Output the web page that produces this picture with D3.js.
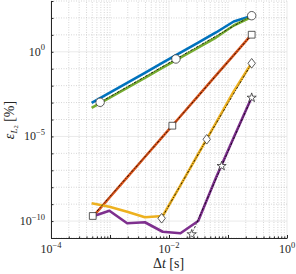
<!DOCTYPE html>
<html>
<head>
<meta charset="utf-8">
<script src="https://cdn.jsdelivr.net/npm/d3@7"></script>
<style>
  body { margin: 0; background: #fff; }
  svg { display: block; }
  text { font-family: "Liberation Serif", "DejaVu Serif", serif; fill: #262626; }
</style>
</head>
<body>
<div id="chart"></div>
<script>
// time steps (s), 0.25 / 2^k
const dt = [4.883e-4, 9.766e-4, 1.953e-3, 3.906e-3, 7.813e-3, 1.563e-2, 3.125e-2, 6.25e-2, 0.125, 0.25];

// error curves [%]
const errBlue   = [9.44e-4, 3.73e-3, 1.45e-2, 5.74e-2, 0.227, 0.883, 3.44, 13.8, 61.5, 130];
const errOrange = [1.49e-10, 2.38e-9, 3.81e-8, 6.1e-7, 9.75e-6, 1.56e-4, 2.49e-3, 3.99e-2, 0.638, 10.2];
const errYellow = [1.12e-9, 7.08e-10, 3.58e-10, 1.67e-10, 2.0e-10, 1.3e-8, 9.18e-7, 6.4e-5, 4.52e-3, 0.209];
const errPurple = [1.82e-10, 4.1e-10, 7.4e-11, 8.5e-11, 2.34e-11, 1.9e-11, 1.01e-10, 3.66e-8, 8.53e-6, 1.94e-3];
const errGreen  = [4.79e-4, 1.89e-3, 7.36e-3, 2.91e-2, 0.115, 0.448, 1.75, 6.98, 35.7, 113.5];

// reference slopes (order 2, 4, 6, 8) with marker points
const refCircle  = { dt: [6.8e-4, 1.31e-2, 0.252], err: [1.04e-3, 0.375, 135.5] };
const refSquare  = { dt: [5.1e-4, 1.14e-2, 0.252], err: [2.0e-10, 4.31e-5, 10.2] };
const refDiamond = { dt: [7.5e-3, 4.36e-2, 0.252], err: [1.46e-10, 6.78e-6, 0.209] };
const refStar    = { dt: [2.43e-2, 7.8e-2, 0.252], err: [1.66e-11, 1.79e-7, 1.94e-3] };

const xLabels = [-4, -2, 0];
const yLabels = [-10, -5, 0];

const width = 296, height = 274;
const svg = d3.select("#chart").append("svg")
  .attr("width", width)
  .attr("height", height);

const x = d3.scaleLog().domain([1e-4, 1]).range([51, 287]);
const y = d3.scaleLog().domain([1e-11, 1e3]).range([238, 1]);

// grid
const xMinor = [];
for (let d = -4; d < 0; d++) {
  for (let m = 1; m < 10; m++) xMinor.push(m * Math.pow(10, d));
}
xMinor.push(1);
const yDec = d3.range(-11, 4).map(d => Math.pow(10, d));

const isMajorX = d => xLabels.some(e => Math.abs(Math.log10(d) - e) < 1e-6);
const isMajorY = d => yLabels.includes(Math.round(Math.log10(d)));

const grid = svg.append("g");
grid.selectAll("line.xg")
  .data(xMinor)
  .enter()
  .append("line")
  .attr("x1", d => x(d)).attr("x2", d => x(d))
  .attr("y1", y(1e-11)).attr("y2", y(1e3))
  .attr("stroke", d => isMajorX(d) ? "#e0e0e0" : "#c4c4c4")
  .attr("stroke-width", 0.7)
  .attr("stroke-dasharray", d => isMajorX(d) ? null : "1,1.5");

grid.selectAll("line.yg")
  .data(yDec)
  .enter()
  .append("line")
  .attr("y1", d => y(d)).attr("y2", d => y(d))
  .attr("x1", x(1e-4)).attr("x2", x(1))
  .attr("stroke", d => isMajorY(d) ? "#e0e0e0" : "#c4c4c4")
  .attr("stroke-width", 0.7)
  .attr("stroke-dasharray", d => isMajorY(d) ? null : "1,1.5");

// error curves
const line = d3.line()
  .x((d, i) => x(dt[i]))
  .y(d => y(d));

const curves = [
  { data: errBlue, color: "#0072BD" },
  { data: errOrange, color: "#D95319" },
  { data: errYellow, color: "#EDB120" },
  { data: errPurple, color: "#7E2F8E" },
  { data: errGreen, color: "#77AC30" }
];

curves.forEach(c => {
  svg.append("path")
    .datum(c.data)
    .attr("d", line)
    .attr("fill", "none")
    .attr("stroke", c.color)
    .attr("stroke-width", 2.6)
    .attr("stroke-linejoin", "round");
});

// reference lines and markers
const refLine = d3.line()
  .x(d => x(d[0]))
  .y(d => y(d[1]));

const circlePath = d3.symbol().type(d3.symbolCircle).size(56)();
const squarePath = d3.symbol().type(d3.symbolSquare).size(46)();
const diamondPath = "M0,-4.8L3.7,0L0,4.8L-3.7,0Z";
const starPath = d3.symbol().type(d3.symbolStar).size(26)();

const refs = [
  { r: refCircle, shape: circlePath },
  { r: refSquare, shape: squarePath },
  { r: refDiamond, shape: diamondPath },
  { r: refStar, shape: starPath }
];

refs.forEach(ref => {
  const pts = ref.r.dt.map((d, i) => [d, ref.r.err[i]]);
  svg.append("path")
    .datum(pts)
    .attr("d", refLine)
    .attr("fill", "none")
    .attr("stroke", "#000")
    .attr("stroke-width", 0.8)
    .attr("stroke-dasharray", "2.5,1.5,1,1.5");
});

refs.forEach(ref => {
  const pts = ref.r.dt.map((d, i) => [d, ref.r.err[i]]);
  svg.selectAll(null)
    .data(pts)
    .enter()
    .append("path")
    .attr("d", ref.shape)
    .attr("transform", d => `translate(${x(d[0])},${y(d[1])})`)
    .attr("fill", "#fff")
    .attr("stroke", "#333")
    .attr("stroke-width", 0.8);
});

// axes
const xAxis = d3.axisBottom(x)
  .tickValues(xMinor)
  .tickSize(0)
  .tickFormat("");
const gx = svg.append("g")
  .attr("transform", `translate(0,${y(1e-11)})`)
  .call(xAxis);
gx.select(".domain").attr("stroke", "#262626").attr("stroke-width", 1);
gx.selectAll(".tick line")
  .attr("y2", d => Math.abs(Math.log10(d) - Math.round(Math.log10(d))) < 1e-6 ? -3 : -1.6)
  .attr("stroke", "#262626");

const yAxis = d3.axisLeft(y)
  .tickValues(yDec)
  .tickSize(0)
  .tickFormat("");
const gy = svg.append("g")
  .attr("transform", `translate(${x(1e-4)},0)`)
  .call(yAxis);
gy.select(".domain").attr("stroke", "#262626").attr("stroke-width", 1);
gy.selectAll(".tick line")
  .attr("x2", 2.5)
  .attr("stroke", "#262626");

// tick labels
xLabels.forEach(e => {
  const t = svg.append("text")
    .attr("x", x(Math.pow(10, e)))
    .attr("y", 253)
    .attr("text-anchor", "middle")
    .style("font-size", "12px");
  t.append("tspan").text("10");
  t.append("tspan")
    .attr("dy", -5.5)
    .style("font-size", "8.5px")
    .text(e === 0 ? "0" : "\u2212" + Math.abs(e));
});

yLabels.forEach(e => {
  const t = svg.append("text")
    .attr("x", 45)
    .attr("y", y(Math.pow(10, e)) + 4)
    .attr("text-anchor", "end")
    .style("font-size", "12px");
  t.append("tspan").text("10");
  t.append("tspan")
    .attr("dy", -5.5)
    .style("font-size", "8.5px")
    .text(e === 0 ? "0" : "\u2212" + Math.abs(e));
});

// axis titles
const xt = svg.append("text")
  .attr("x", 168.5)
  .attr("y", 268)
  .attr("text-anchor", "middle")
  .style("font-size", "14px");
xt.append("tspan").text("\u0394");
xt.append("tspan").style("font-style", "italic").text("t");
xt.append("tspan").text(" [s]");

const yt = svg.append("text")
  .attr("transform", "translate(14,120) rotate(-90)")
  .attr("text-anchor", "middle")
  .style("font-size", "14px");
yt.append("tspan").style("font-style", "italic").text("\u03B5");
yt.append("tspan").attr("dy", 2.5).style("font-size", "9px").style("font-style", "italic").text("L");
yt.append("tspan").attr("dy", 1.5).style("font-size", "6.5px").text("2");
yt.append("tspan").attr("dy", -4).text(" [%]");
</script>
</body>
</html>
